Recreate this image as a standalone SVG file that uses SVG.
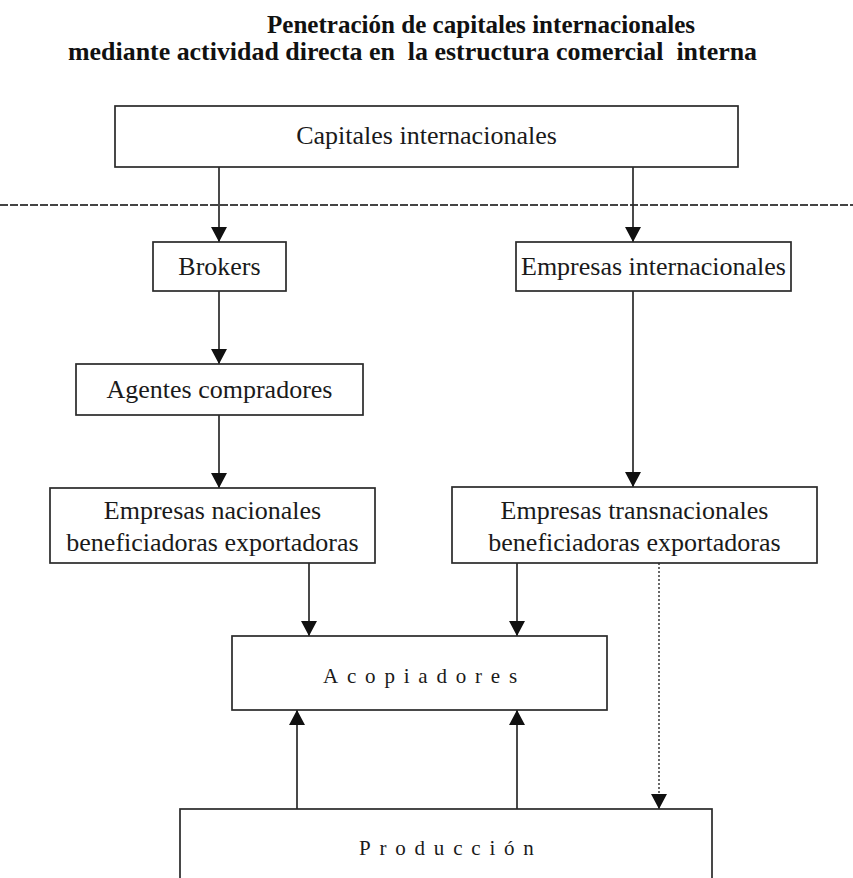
<svg xmlns="http://www.w3.org/2000/svg" width="853" height="878" viewBox="0 0 853 878">
  <style>
    .box { fill: #ffffff; stroke: #2a2a2a; stroke-width: 1.7; }
    .lbl { font-family: "Liberation Serif", "Times New Roman", serif; font-size: 26px; fill: #1a1a1a; text-anchor: middle; }
    .sp { font-family: "Liberation Serif", "Times New Roman", serif; font-size: 21px; fill: #1a1a1a; letter-spacing: 8.8px; }
    .title { font-family: "Liberation Serif", "Times New Roman", serif; font-size: 25px; font-weight: bold; fill: #111; white-space: pre; }
    .conn { stroke: #2a2a2a; stroke-width: 1.7; fill: none; }
    .dot { stroke: #444; stroke-width: 1.6; stroke-dasharray: 2 2; fill: none; }
    .sep { stroke: #444; stroke-width: 1.8; stroke-dasharray: 8 2; fill: none; }
  </style>
  <defs>
    <marker id="ah" viewBox="0 0 15 16" refX="15" refY="8" markerWidth="15" markerHeight="16" markerUnits="userSpaceOnUse" orient="auto">
      <path d="M0,0 L15,8 L0,16 Z" fill="#111"/>
    </marker>
  </defs>
  <rect width="853" height="878" fill="#ffffff"/>

  <g id="title">
    <text class="title" x="267" y="33" textLength="428" lengthAdjust="spacingAndGlyphs">Penetración de capitales internacionales</text>
    <text class="title" x="68" y="60" textLength="689" lengthAdjust="spacingAndGlyphs" xml:space="preserve">mediante actividad directa en  la estructura comercial  interna</text>
  </g>

  <line class="sep" x1="0" y1="205" x2="853" y2="205"/>

  <g id="connectors">
    <line class="conn" x1="219" y1="167" x2="219" y2="242" marker-end="url(#ah)"/>
    <line class="conn" x1="633" y1="167" x2="633" y2="242" marker-end="url(#ah)"/>
    <line class="conn" x1="219" y1="291" x2="219" y2="364" marker-end="url(#ah)"/>
    <line class="conn" x1="219" y1="415" x2="219" y2="488" marker-end="url(#ah)"/>
    <line class="conn" x1="633" y1="291" x2="633" y2="487" marker-end="url(#ah)"/>
    <line class="conn" x1="309" y1="563" x2="309" y2="636" marker-end="url(#ah)"/>
    <line class="conn" x1="517" y1="563" x2="517" y2="636" marker-end="url(#ah)"/>
    <line class="conn" x1="297" y1="809" x2="297" y2="710" marker-end="url(#ah)"/>
    <line class="conn" x1="517" y1="809" x2="517" y2="710" marker-end="url(#ah)"/>
    <line class="dot" x1="659" y1="563" x2="659" y2="809" marker-end="url(#ah)"/>
  </g>

  <g id="capitales">
    <rect class="box" x="115" y="106" width="623" height="61"/>
    <text class="lbl" x="426.5" y="144">Capitales internacionales</text>
  </g>
  <g id="brokers">
    <rect class="box" x="153" y="242" width="133" height="49"/>
    <text class="lbl" x="219.5" y="275">Brokers</text>
  </g>
  <g id="empresas-internacionales">
    <rect class="box" x="516" y="242" width="275" height="49"/>
    <text class="lbl" x="653.5" y="275">Empresas internacionales</text>
  </g>
  <g id="agentes">
    <rect class="box" x="76" y="364" width="287" height="51"/>
    <text class="lbl" x="219.5" y="398">Agentes compradores</text>
  </g>
  <g id="empresas-nacionales">
    <rect class="box" x="50" y="488" width="325" height="75"/>
    <text class="lbl" x="212.5" y="519">Empresas nacionales</text>
    <text class="lbl" x="212.5" y="551">beneficiadoras exportadoras</text>
  </g>
  <g id="empresas-transnacionales">
    <rect class="box" x="452" y="487" width="365" height="76"/>
    <text class="lbl" x="634.5" y="519">Empresas transnacionales</text>
    <text class="lbl" x="634.5" y="551">beneficiadoras exportadoras</text>
  </g>
  <g id="acopiadores">
    <rect class="box" x="232" y="636" width="375" height="74"/>
    <text class="sp" x="323" y="683">Acopiadores</text>
  </g>
  <g id="produccion">
    <rect class="box" x="180" y="809" width="532" height="90"/>
    <text class="sp" x="359" y="855">Producción</text>
  </g>
</svg>
